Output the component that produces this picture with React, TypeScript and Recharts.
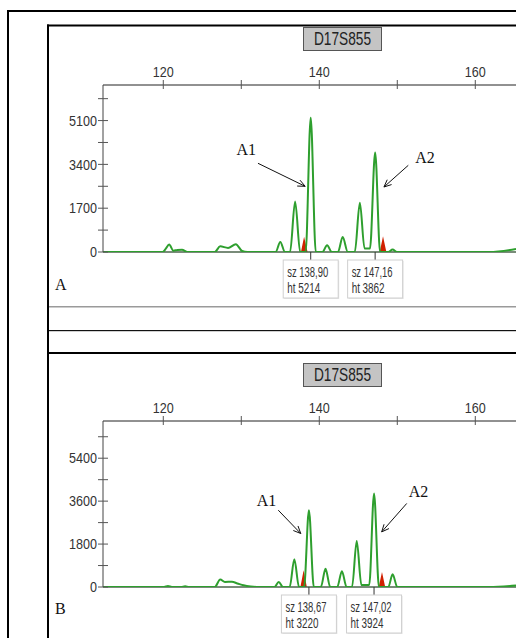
import React from 'react';
import { ComposedChart, Line, Area, XAxis, YAxis, ReferenceLine, ReferenceDot } from 'recharts';

// electropherogram, marker D17S855, two samples (A / B)
const markerName = 'D17S855';
const sizeTicks = [120, 130, 140, 150, 160];
const sizeLabels = [120, 140, 160];
const sizeDomain = [112.27, 165.22];

const rfuTicksA = [0, 850, 1700, 2550, 3400, 4250, 5100, 5950];
const rfuLabelsA = [0, 1700, 3400, 5100];
const rfuTicksB = [0, 900, 1800, 2700, 3600, 4500, 5400, 6300];
const rfuLabelsB = [0, 1800, 3600, 5400];

// green (sample) trace, panel A: [size bp, height rfu]
const traceA = [
  [112.27, 0], [119.9, 0], [120.3, 120], [120.75, 290], [121.3, 50], [121.8, 80], [122.4, 90], [123.1, 0],
  [126.6, 0], [127.3, 220], [128.3, 160], [129.3, 300], [130.1, 40], [130.8, 0],
  [134.4, 0], [135.0, 390], [135.6, 0], [136.25, 0], [136.9, 1955], [137.55, 0],
  [138.25, 0], [138.9, 5214], [139.55, 0], [140.4, 0], [141.0, 262], [141.6, 0],
  [142.4, 0], [143.0, 586], [143.65, 0], [144.55, 0], [145.2, 1915], [145.8, 140],
  [146.5, 140], [147.16, 3862], [147.8, 0], [148.85, 0], [149.4, 94], [149.95, 0],
  [161.8, 0], [165.22, 120],
];
// red (size standard) peaks, panel A
const redA = [
  [137.65, 0], [138.05, 590], [138.5, 0], [147.75, 0], [148.17, 613], [148.6, 0],
];

const traceB = [
  [112.27, 0], [120.1, 0], [120.6, 40], [121.1, 0], [122.3, 0], [122.8, 30], [123.3, 0],
  [126.6, 0], [127.3, 310], [127.9, 210], [128.8, 220], [129.5, 150], [130.3, 70], [131.2, 20], [132.0, 0],
  [134.25, 0], [134.8, 210], [135.35, 0], [136.2, 0], [136.8, 1168], [137.4, 0],
  [138.05, 0], [138.67, 3220], [139.3, 0], [140.2, 0], [140.8, 760], [141.4, 0],
  [142.3, 0], [142.9, 660], [143.5, 0], [144.2, 0], [144.8, 1926], [145.4, 80],
  [146.4, 80], [147.02, 3924], [147.65, 0], [148.85, 0], [149.4, 535], [150.0, 0],
  [161.8, 0], [165.22, 60],
];
const redB = [
  [137.58, 0], [137.99, 704], [138.4, 0], [147.62, 0], [148.04, 632], [148.45, 0],
];

// allele calls
const callsA = [
  { size: 138.9, height: 5214 },
  { size: 147.16, height: 3862 },
];
const callsB = [
  { size: 138.67, height: 3220 },
  { size: 147.02, height: 3924 },
];

// A1 / A2 arrows: from (bp, rfu) to (bp, rfu)
const notesA = [
  { label: 'A1', from: [132.14, 3442], to: [138.19, 2549], anchor: 'end', dx: -2, dy: -8 },
  { label: 'A2', from: [151.41, 3364], to: [148.29, 2522], anchor: 'start', dx: 7, dy: -2 },
];
const notesB = [
  { label: 'A1', from: [134.74, 3221], to: [137.62, 2243], anchor: 'end', dx: -2, dy: -4 },
  { label: 'A2', from: [151.21, 3503], to: [148.0, 2310], anchor: 'start', dx: 2, dy: -6 },
];

const toRows = (pts: number[][]) => pts.map(([bp, rfu]) => ({ bp, rfu }));

const sans = "'Liberation Sans', Arial, sans-serif";
const serif = "'Liberation Serif', 'Times New Roman', serif";
const GREEN = '#2e9f2e';
const RED = '#d02000';

const TopTick = (props: any) => {
  const { x, y, payload } = props;
  return (
    <g>
      <line x1={x} x2={x} y1={y - 5} y2={y + 4} stroke="#555" />
      {sizeLabels.includes(payload.value) && (
        <text x={x} y={y - 8} textAnchor="middle" fontFamily={sans} fontSize={15} fill="#333"
          textLength={21} lengthAdjust="spacingAndGlyphs">
          {payload.value}
        </text>
      )}
    </g>
  );
};

const LeftTick = (props: any) => {
  const { x, y, payload, labels } = props;
  const s = String(payload.value);
  return (
    <g>
      <line x1={x - 5} x2={x + 5} y1={y} y2={y} stroke="#555" />
      {labels.includes(payload.value) && (
        <text x={x - 6} y={y} dy="0.36em" textAnchor="end" fontFamily={sans} fontSize={14.5} fill="#333"
          textLength={s.length * 7} lengthAdjust="spacingAndGlyphs">
          {s}
        </text>
      )}
    </g>
  );
};

const CallBox = (props: any) => {
  const { cx, cy, call } = props;
  const w = 55;
  const top = cy + 8;
  const sz = 'sz ' + call.size.toFixed(2).replace('.', ',');
  const ht = 'ht ' + call.height;
  return (
    <g>
      <line x1={cx} x2={cx} y1={cy} y2={top} stroke="#333" />
      <rect x={cx - w / 2 + 1} y={top + 1} width={w} height={38} fill="#e6e6e6" />
      <rect x={cx - w / 2} y={top} width={w} height={38} fill="#fff" stroke="#cfcfcf" />
      <text x={cx - w / 2 + 4} y={top + 16.5} fontFamily={sans} fontSize={14} fill="#333"
        textLength={41} lengthAdjust="spacingAndGlyphs">
        {sz}
      </text>
      <text x={cx - w / 2 + 4} y={top + 33} fontFamily={sans} fontSize={14} fill="#333"
        textLength={33} lengthAdjust="spacingAndGlyphs">
        {ht}
      </text>
    </g>
  );
};

const Arrow = (props: any) => {
  const { x1, y1, x2, y2, note } = props;
  if (![x1, y1, x2, y2].every((v) => typeof v === 'number')) return null;
  const ang = Math.atan2(y2 - y1, x2 - x1);
  const len = 8;
  const spread = 0.42;
  const p1 = [x2 - len * Math.cos(ang - spread), y2 - len * Math.sin(ang - spread)];
  const p2 = [x2 - len * Math.cos(ang + spread), y2 - len * Math.sin(ang + spread)];
  return (
    <g>
      <line x1={x1} y1={y1} x2={x2} y2={y2} stroke="#111" strokeWidth={1} />
      <polyline points={`${p1[0]},${p1[1]} ${x2},${y2} ${p2[0]},${p2[1]}`} fill="none" stroke="#111" strokeWidth={1} />
      <text x={x1 + note.dx} y={y1 + note.dy} textAnchor={note.anchor} fontFamily={serif} fontSize={16} fill="#111">
        {note.label}
      </text>
    </g>
  );
};

interface PanelProps {
  top: number;
  height: number;
  marginTop: number;
  marginBottom: number;
  yMax: number;
  yTicks: number[];
  yLabels: number[];
  trace: number[][];
  red: number[][];
  calls: { size: number; height: number }[];
  notes: any[];
}

const Panel: React.FC<PanelProps> = (p) => (
  <div style={{ position: 'absolute', left: 50, top: p.top }}>
    <ComposedChart
      width={466}
      height={p.height}
      margin={{ top: p.marginTop, right: 0, left: 3, bottom: p.marginBottom }}
    >
      <XAxis
        type="number"
        dataKey="bp"
        orientation="top"
        domain={sizeDomain}
        allowDataOverflow
        ticks={sizeTicks}
        interval={0}
        height={30}
        tickSize={0}
        tickMargin={0}
        tick={<TopTick />}
        axisLine={{ stroke: '#222' }}
        tickLine={false}
      />
      <YAxis
        type="number"
        dataKey="rfu"
        domain={[0, p.yMax]}
        allowDataOverflow
        ticks={p.yTicks}
        interval={0}
        width={50}
        tickSize={0}
        tickMargin={0}
        tick={<LeftTick labels={p.yLabels} />}
        axisLine={{ stroke: '#444' }}
        tickLine={false}
      />
      <ReferenceLine y={0} stroke="#4d654d" strokeWidth={1.5} />
      <Area
        data={toRows(p.red)}
        dataKey="rfu"
        type="linear"
        fill={RED}
        fillOpacity={1}
        stroke="none"
        isAnimationActive={false}
      />
      <Line
        data={toRows(p.trace)}
        dataKey="rfu"
        type="monotone"
        stroke={GREEN}
        strokeWidth={2}
        dot={false}
        isAnimationActive={false}
      />
      {p.calls.map((c) => (
        <ReferenceDot
          key={c.size}
          x={c.size}
          y={0}
          r={0}
          shape={(sp: any) => <CallBox {...sp} call={c} />}
        />
      ))}
      {p.notes.map((n) => (
        <ReferenceLine
          key={n.label}
          segment={[
            { x: n.from[0], y: n.from[1] },
            { x: n.to[0], y: n.to[1] },
          ]}
          shape={(sp: any) => <Arrow {...sp} note={n} />}
        />
      ))}
    </ComposedChart>
  </div>
);

const MarkerBox = ({ y }: { y: number }) => (
  <g>
    <rect x={303.5} y={y} width={78} height={23} fill="#c4c4c4" stroke="#555" />
    <text x={342.5} y={y + 17.5} textAnchor="middle" fontFamily={sans} fontSize={18} fill="#222"
      textLength={57} lengthAdjust="spacingAndGlyphs">
      {markerName}
    </text>
  </g>
);

export default function App() {
  return (
    <div style={{ position: 'absolute', left: 0, top: 0, width: 516, height: 638, overflow: 'hidden', background: '#fff' }}>
      <svg width={516} height={638} style={{ position: 'absolute', left: 0, top: 0 }}>
        {/* outer frame */}
        <rect x={7} y={10} width={2} height={640} fill="#000" />
        <rect x={7} y={10} width={520} height={2} fill="#000" />
        {/* inner panel frame */}
        <rect x={47} y={24.5} width={2} height={640} fill="#000" />
        <rect x={47} y={24.5} width={480} height={2} fill="#000" />
        <rect x={49} y={306} width={480} height={1.5} fill="#9a9a9a" />
        <rect x={49} y={330} width={480} height={1.2} fill="#111" />
        <rect x={49} y={352} width={480} height={2} fill="#000" />
        <MarkerBox y={27.5} />
        <MarkerBox y={363.5} />
        <text x={55} y={290} fontFamily={serif} fontSize={16} fill="#111">A</text>
        <text x={55} y={614} fontFamily={serif} fontSize={16} fill="#111">B</text>
      </svg>
      <Panel
        top={27}
        height={280}
        marginTop={28}
        marginBottom={55}
        yMax={6480}
        yTicks={rfuTicksA}
        yLabels={rfuLabelsA}
        trace={traceA}
        red={redA}
        calls={callsA}
        notes={notesA}
      />
      <Panel
        top={355}
        height={283}
        marginTop={36}
        marginBottom={51}
        yMax={6960}
        yTicks={rfuTicksB}
        yLabels={rfuLabelsB}
        trace={traceB}
        red={redB}
        calls={callsB}
        notes={notesB}
      />
    </div>
  );
}
